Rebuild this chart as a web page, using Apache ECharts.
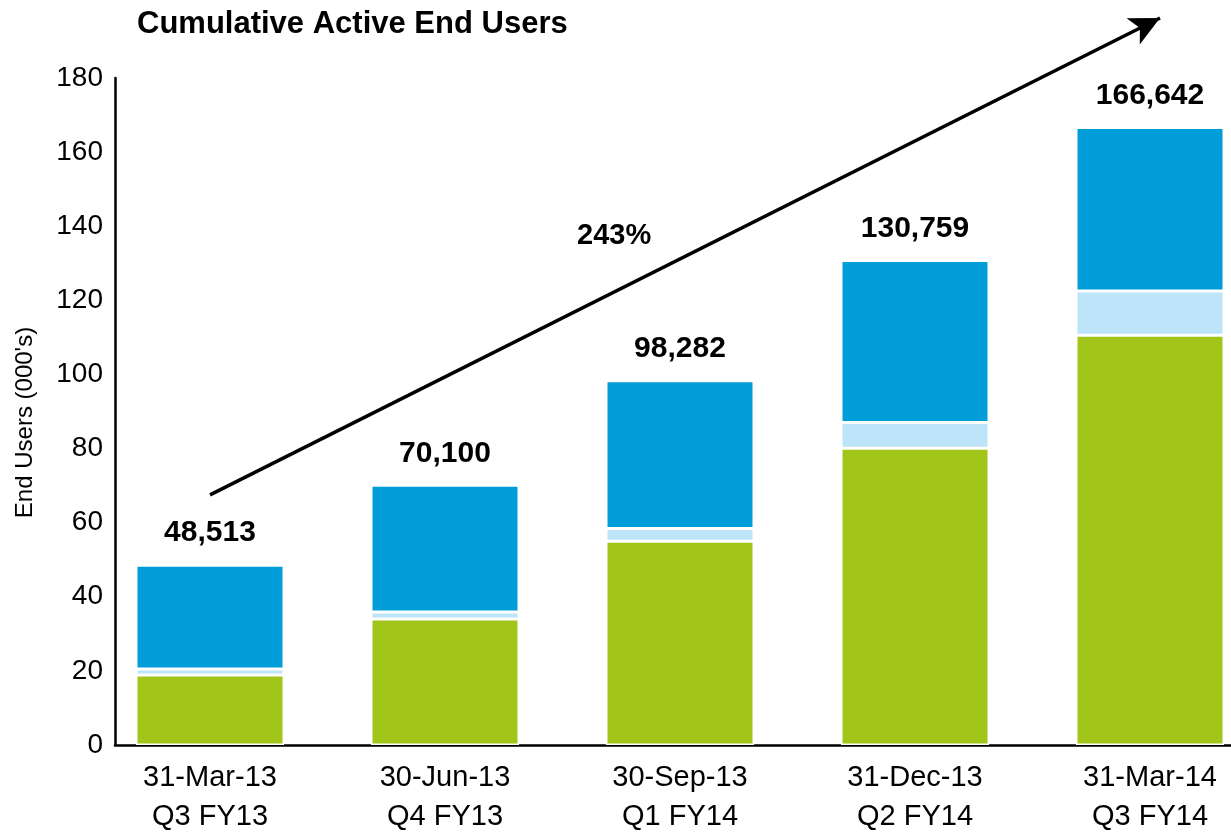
<!DOCTYPE html>
<html>
<head>
<meta charset="utf-8">
<script src="https://cdn.jsdelivr.net/npm/echarts@6/dist/echarts.min.js"></script>
<style>
html, body { margin: 0; padding: 0; background: #fff; }
#chart { width: 1231px; height: 833px; }
</style>
</head>
<body>
<div id="chart"></div>
<script>
// quarters on the x axis
var quarters = ['31-Mar-13\nQ3 FY13', '30-Jun-13\nQ4 FY13', '30-Sep-13\nQ1 FY14', '31-Dec-13\nQ2 FY14', '31-Mar-14\nQ3 FY14']
// totals printed above the bars (users)
var totals = [48513, 70100, 98282, 130759, 166642]
// segments in thousands
var greenPart = [18.9, 34.0, 55.0, 80.1, 110.6]
var lightPart = [1.6, 1.9, 3.4, 6.9, 11.9]
var bluePart = totals.map(function (t, i) {
  return +(t / 1000 - greenPart[i] - lightPart[i]).toFixed(3)
})
var yTicks = [0, 20, 40, 60, 80, 100, 120, 140, 160, 180]
var growthText = '243%'

var font = 'Liberation Sans, Arial, Helvetica, sans-serif'
var chart = echarts.init(document.getElementById('chart'))

function seg (name, data, color) {
  return {
    name: name,
    type: 'bar',
    stack: 'users',
    xAxisIndex: 0,
    yAxisIndex: 0,
    barWidth: 148,
    data: data,
    itemStyle: { color: color, borderColor: '#fff', borderWidth: 1.5 }
  }
}

var blueSeries = seg('blue', bluePart, '#009dd9')
blueSeries.label = {
  show: true,
  position: 'top',
  distance: 17,
  color: '#000',
  fontFamily: font,
  fontWeight: 'bold',
  fontSize: 30,
  formatter: function (p) { return totals[p.dataIndex].toLocaleString('en-US') }
}
blueSeries.markLine = {
  silent: true,
  symbol: ['none', 'arrow'],
  symbolSize: [22, 30],
  label: { show: false },
  lineStyle: { color: '#000', width: 3.5, type: 'solid' },
  data: [[{ coord: [0, 67.5] }, { x: 1160, y: 18 }]]
}

chart.setOption({
  animation: false,
  title: {
    text: 'Cumulative Active End Users',
    left: 132,
    top: 4,
    textStyle: { fontFamily: font, fontWeight: 'bold', fontSize: 31, color: '#000' }
  },
  graphic: [{
    type: 'text',
    left: 577,
    top: 221,
    style: { text: growthText, font: 'bold 29px ' + font, fill: '#000' }
  }],
  grid: [
    { left: 92.5, width: 1175, top: 78, bottom: 88, outerBoundsMode: 'none' },
    { left: 115, right: 0, top: 78, bottom: 88, outerBoundsMode: 'none' }
  ],
  xAxis: [{
    type: 'category',
    gridIndex: 0,
    data: quarters,
    axisLine: { show: false },
    axisTick: { show: false },
    axisLabel: { color: '#000', fontFamily: font, fontSize: 29, lineHeight: 39, margin: 13 }
  }, {
    type: 'value',
    gridIndex: 1,
    min: 0,
    max: 1,
    axisLine: { show: true, lineStyle: { color: '#000', width: 2.5 } },
    axisTick: { show: false },
    axisLabel: { show: false },
    splitLine: { show: false }
  }],
  yAxis: [{
    type: 'value',
    gridIndex: 0,
    min: yTicks[0],
    max: yTicks[yTicks.length - 1],
    interval: 20,
    offset: -22.5,
    name: "End Users (000's)",
    nameLocation: 'middle',
    nameGap: 78,
    nameTextStyle: { color: '#000', fontFamily: font, fontSize: 24, padding: [0, 22, 0, 0] },
    axisLine: { show: true, lineStyle: { color: '#000', width: 2.5 } },
    axisTick: { show: false },
    splitLine: { show: false },
    axisLabel: { color: '#000', fontFamily: font, fontSize: 28, margin: 12 }
  }, {
    type: 'value',
    gridIndex: 1,
    show: false
  }],
  series: [
    seg('green', greenPart, '#a2c519'),
    seg('light', lightPart, '#bde4f9'),
    blueSeries
  ]
})
</script>
</body>
</html>
